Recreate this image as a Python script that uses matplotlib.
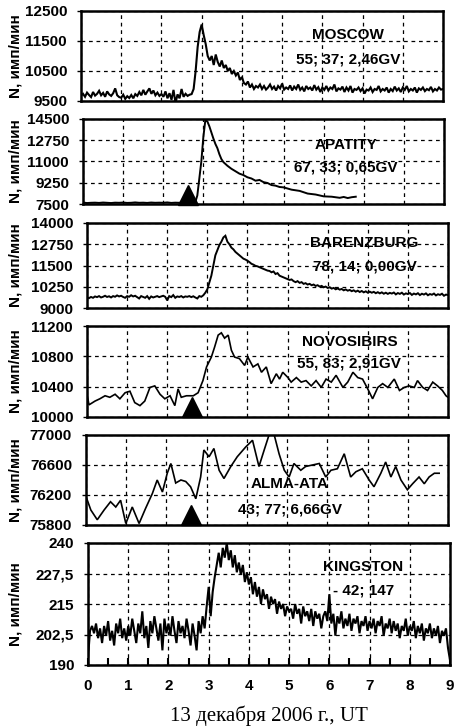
import numpy as np
import matplotlib
matplotlib.use('Agg')
import matplotlib.pyplot as plt

plt.rcParams['font.family'] = ['Liberation Sans', 'DejaVu Sans']

# ---------------- data ----------------
stations = ['MOSCOW', 'APATITY', 'BARENZBURG', 'NOVOSIBIRS', 'ALMA-ATA', 'KINGSTON']
station_info = ['55; 37; 2,46GV', '67, 33; 0,65GV', '78, 14; 0,00GV',
                '55, 83; 2,91GV', '43; 77; 6,66GV', '- 42; 147']
event_onset = 2.62  # hours UT, marked by triangle

moscow_v = [
    9680, 9740, 9640, 9780, 9700, 9630, 9800, 9680, 9740, 9840, 9690, 9770, 9640, 9820, 9720, 9670, 9760, 9920, 9690, 9630,
    9610, 9710, 9570, 9660, 9600, 9700, 9590, 9730, 9670, 9800, 9690, 9870, 9710, 9820, 9920, 9740, 9850, 9690, 9780, 9670,
    9730, 9640, 9820, 9590, 9760, 9540, 9870, 9430, 9720, 9590, 9900, 9640, 9740, 9670, 9710, 9730,
    9900, 10500, 11300, 11800, 12050, 11700, 11400, 11000, 10850, 11000, 10700, 11050, 10800, 10650, 10850, 10600, 10700,
    10500, 10600, 10400, 10500, 10350, 10450, 10200, 10300, 10100, 10050, 10150, 9950, 10050, 9900, 10000, 9950, 10050, 9900,
    10000, 9880, 9950, 10050, 9900, 9980, 9850, 10000, 9920, 10080, 9880, 9950, 9900, 10020, 9850, 9980, 9900, 10050, 9870, 9950,
    9820, 10000, 9900, 9950, 9850, 10030, 9880, 9960, 9800, 9950,
    9870, 10000, 9850, 9950, 9900, 10050, 9820, 9920, 9880, 9980, 9800, 9950, 9850, 10000, 9780, 9900, 9870, 9950, 9830, 9920,
    9750, 9880, 9850, 9950, 9800, 9900, 9870, 10000, 9820, 9900,
    9850, 9950, 9780, 9900, 9830, 9980, 9850, 9920, 9800, 9950, 9870, 10000, 9820, 9900, 9850, 9950, 9780, 9920, 9870, 9950,
    9830, 9900, 9860, 9970, 9820, 9900, 9850, 9950, 9880, 9900]

apatity_t = [0.0, 0.1, 0.2, 0.3, 0.4, 0.5, 0.6, 0.7, 0.8, 0.9, 1.0, 1.1, 1.2, 1.3, 1.4, 1.5, 1.6, 1.7, 1.8, 1.9,
             2.0, 2.1, 2.2, 2.3, 2.4, 2.5, 2.6, 2.7, 2.8,
             2.85, 2.9, 2.95, 3.0, 3.05, 3.1, 3.15, 3.2, 3.25, 3.3, 3.35, 3.4, 3.45, 3.5, 3.6, 3.7, 3.8, 3.9,
             4.0, 4.1, 4.2, 4.3, 4.4, 4.5, 4.6, 4.7, 4.8, 4.9, 5.0, 5.2, 5.4, 5.6, 5.8, 6.0, 6.2, 6.4, 6.5, 6.6, 6.7, 6.8]
apatity_v = [7620, 7580, 7600, 7610, 7590, 7620, 7600, 7580, 7610, 7600, 7620, 7590, 7600, 7630, 7600, 7610, 7590, 7620,
             7600, 7610, 7600, 7630, 7590, 7610, 7600, 7620, 7600, 7610, 7650,
             8200, 9600, 11000, 13000, 14400, 14300, 13900, 13400, 12900, 12450, 12100, 11600, 11200, 10950, 10650, 10400,
             10200, 10000,
             9880, 9700, 9600, 9420, 9480, 9300, 9230, 9060, 9010, 8900, 8870, 8680, 8580, 8360, 8280, 8130, 8100, 8010,
             8080, 7990, 8060, 8100]

barenz_v = [
    9620, 9580, 9650, 9600, 9680, 9640, 9700, 9620, 9660, 9720, 9650, 9690, 9620, 9700, 9660, 9740, 9680, 9720, 9650, 9600,
    9700, 9660, 9750, 9680, 9720, 9640, 9560, 9700, 9650, 9600, 9700, 9540, 9680, 9620, 9660, 9700, 9640, 9680, 9720, 9660,
    9450, 9700, 9640, 9760, 9600, 9680, 9650, 9700, 9620, 9680, 9660, 9700, 9640, 9690, 9620, 9560, 9700, 9660, 9750,
    9900, 10100, 10500, 10900, 11500, 12100, 12400, 12700, 12900, 13150, 13250, 12900, 12750, 12550, 12450, 12300, 12200,
    12100, 12000, 11900, 11850, 11780, 11700, 11600, 11550, 11480, 11450, 11400, 11350, 11300, 11250, 11200, 11180, 11100,
    11150, 11000, 11050, 10900, 10850, 10800, 10750, 10700,
    10650, 10680, 10580, 10520, 10580, 10480, 10520, 10420, 10460, 10380, 10420, 10340, 10380, 10300, 10340, 10260, 10300,
    10220, 10260, 10180, 10220, 10140, 10180, 10100, 10150, 10080, 10120, 10040, 10090, 10020, 10060, 9990, 10040, 9960,
    10020, 9940, 10000, 9920, 9980, 9900,
    9960, 9900, 9950, 9870, 9930, 9860, 9920, 9840, 9900, 9830, 9890, 9850, 9910, 9800, 9880, 9830, 9900, 9790, 9860, 9820,
    9880, 9770, 9850, 9800, 9870, 9760, 9840, 9790, 9860, 9750, 9820, 9780, 9850, 9740, 9810, 9770, 9840, 9720, 9790, 9760]

novo_t = [0.0, 0.05, 0.2, 0.32, 0.45, 0.57, 0.7, 0.82, 0.95, 1.07, 1.19, 1.32, 1.44, 1.57, 1.69, 1.82, 1.94, 2.07, 2.19,
          2.27, 2.35, 2.48, 2.65, 2.77, 2.89, 2.98, 3.1, 3.18, 3.27, 3.35, 3.43, 3.52, 3.6, 3.68, 3.8, 3.93, 4.01, 4.14,
          4.26, 4.35, 4.47, 4.59, 4.72, 4.8, 4.88, 5.01, 5.09, 5.22, 5.34, 5.46, 5.59, 5.71, 5.84, 5.96, 6.09, 6.21, 6.38,
          6.5, 6.63, 6.75, 6.87, 7.0, 7.12, 7.25, 7.37, 7.5, 7.66, 7.79, 7.91, 8.03, 8.16, 8.24, 8.37, 8.49, 8.62, 8.74,
          8.86, 8.95, 9.0]
novo_v = [10300, 10160, 10210, 10240, 10280, 10260, 10300, 10240, 10320, 10340, 10190, 10150, 10210, 10390, 10410, 10300,
          10240, 10280, 10150, 10370, 10260, 10280, 10280, 10320, 10480, 10660, 10790, 10920, 11080, 11110, 11040, 11080,
          10880, 10790, 10770, 10680, 10790, 10660, 10700, 10590, 10660, 10440, 10570, 10500, 10590, 10520, 10460, 10520,
          10460, 10480, 10410, 10480, 10390, 10500, 10460, 10550, 10390, 10460, 10590, 10520, 10500, 10370, 10240, 10390,
          10440, 10390, 10500, 10350, 10390, 10410, 10390, 10480, 10390, 10350, 10460, 10410, 10350, 10280, 10260]

alma_t = [0.0, 0.12, 0.28, 0.45, 0.61, 0.74, 0.86, 0.99, 1.15, 1.32, 1.48, 1.65, 1.77, 1.9, 2.02, 2.11, 2.23, 2.36, 2.48,
          2.6, 2.73, 2.85, 2.93, 3.06, 3.18, 3.31, 3.43, 3.6, 3.76, 3.97, 4.14, 4.3, 4.43, 4.55, 4.68, 4.8, 4.93, 5.05,
          5.17, 5.34, 5.46, 5.63, 5.8, 5.96, 6.09, 6.25, 6.42, 6.58, 6.71, 6.87, 7.04, 7.16, 7.33, 7.45, 7.58, 7.7, 7.83,
          7.99, 8.12, 8.28, 8.41, 8.53, 8.66, 8.78]
alma_v = [76180, 76000, 75870, 76000, 76110, 76040, 76130, 75820, 76040, 75820, 76020, 76220, 76400, 76240, 76490, 76620,
          76360, 76400, 76380, 76310, 76150, 76440, 76800, 76710, 76820, 76530, 76420, 76580, 76710, 76840, 76930, 76580,
          76800, 77000, 77000, 76750, 76530, 76440, 76620, 76530, 76580, 76600, 76620, 76440, 76530, 76550, 76750, 76440,
          76510, 76550, 76400, 76310, 76490, 76640, 76440, 76580, 76400, 76270, 76350, 76440, 76350, 76440, 76490, 76490]

kingston_v = [
    193, 204, 206, 203, 207, 201, 205, 199, 206, 202, 208, 200, 204, 198, 207, 203, 209, 201, 205, 200,
    206, 202, 209, 204, 199, 207, 203, 212, 201, 206, 197, 208, 203, 210, 205, 200, 207, 196, 209, 203,
    207, 202, 210, 204, 199, 208, 203, 206, 201, 209, 204, 198, 207, 202, 196, 208, 203, 210, 205,
    214, 222, 210, 220, 226, 231, 236, 230, 238, 234, 240, 233, 237, 230, 235, 228, 232, 227, 231, 224, 228, 223,
    226, 219, 224, 218, 222, 215, 221, 217, 219, 213, 218, 215, 217, 211, 216, 213, 215, 210, 214, 212,
    213, 209, 215, 211, 213, 207, 214, 210, 212, 208, 213, 206, 212, 209, 211, 205, 210, 212, 208, 219,
    207, 211, 202, 210, 207, 212, 205, 209, 206, 211, 204, 209, 207, 210, 203, 208, 206, 210, 204, 208,
    205, 209, 203, 208, 206, 210, 202, 207, 205, 209, 203, 208, 204, 207, 201, 206, 204, 209, 202, 206,
    204, 208, 201, 206, 203, 207, 200, 205, 203, 207, 201, 205, 202, 206, 199, 204, 202, 205, 197, 192]

series = [
    (np.linspace(0, 9, len(moscow_v)), moscow_v),
    (apatity_t, apatity_v),
    (np.linspace(0, 9, len(barenz_v)), barenz_v),
    (novo_t, novo_v),
    (alma_t, alma_v),
    (np.linspace(0, 9, len(kingston_v)), kingston_v),
]

yticks = [
    [9500, 10500, 11500, 12500],
    [7500, 9250, 11000, 12750, 14500],
    [9000, 10250, 11500, 12750, 14000],
    [10000, 10400, 10800, 11200],
    [75800, 76200, 76600, 77000],
    [190, 202.5, 215, 227.5, 240],
]
ytick_labels = [
    ['9500', '10500', '11500', '12500'],
    ['7500', '9250', '11000', '12750', '14500'],
    ['9000', '10250', '11500', '12750', '14000'],
    ['10000', '10400', '10800', '11200'],
    ['75800', '76200', '76600', '77000'],
    ['190', '202,5', '215', '227,5', '240'],
]
xticks = [0, 1, 2, 3, 4, 5, 6, 7, 8, 9]
show_triangle = [False, True, False, True, True, False]
# label positions (hours, value) for station name and coordinates
label_pos = [
    (6.64, 11700, 10870),
    (6.55, 12360, 10465),
    (6.92, 12824, 11413),
    (6.54, 10987, 10707),
    (5.07, 76347, 76000),
    (6.84, 230.2, 220.7),
]
line_w = [1.5, 1.4, 1.4, 1.2, 1.2, 1.5]

# ---------------- layout ----------------
W, H = 458, 726
fig = plt.figure(figsize=(W / 100, H / 100), dpi=100)
boxes = [  # left, top, right, bottom in pixels
    (81, 11, 443, 101),
    (83, 119, 444, 204),
    (87, 223, 448, 308),
    (87, 326, 448, 417),
    (86, 435, 448, 525),
    (88, 543, 450, 665),
]

for i, (l, t, r, b) in enumerate(boxes):
    ax = fig.add_axes([l / W, 1 - b / H, (r - l) / W, (b - t) / H])
    x, y = series[i]
    ax.plot(x, y, color='black', lw=line_w[i], solid_joinstyle='miter')
    ax.set_xlim(0, 9)
    ax.set_ylim(yticks[i][0], yticks[i][-1])
    ax.set_yticks(yticks[i])
    ax.set_yticklabels(ytick_labels[i], fontsize=11, fontweight='bold')
    ax.set_xticks(xticks)
    for s in ax.spines.values():
        s.set_linewidth(1.8)
    ax.grid(True, color='black', linestyle=(0, (3, 3)), linewidth=0.9)
    ax.tick_params(axis='y', direction='out', length=3, width=1, pad=7)
    if i < 5:
        ax.tick_params(axis='x', length=0, labelbottom=False)
    else:
        ax.set_xticklabels([str(v) for v in xticks], fontsize=11, fontweight='bold')
        ax.set_xticks(np.arange(0, 9.01, 0.5), minor=True)
        ax.tick_params(axis='x', which='both', direction='in', length=5, width=1.5, pad=10)
        ax.set_xlabel('13 декабря 2006 г., UT', family=['Liberation Serif', 'DejaVu Serif'],
                      fontsize=15, labelpad=9)
    if show_triangle[i]:
        ax.plot([event_onset], [0.11], marker='^', ms=14, color='black',
                transform=ax.get_xaxis_transform(), clip_on=False)
    lx, ly1, ly2 = label_pos[i]
    ax.text(lx, ly1, stations[i], ha='center', va='center', fontsize=11, fontweight='bold')
    ax.text(lx, ly2, station_info[i], ha='center', va='center', fontsize=11, fontweight='bold')
    fig.text(16 / W, 1 - (t + b) / 2 / H, 'N, имп/мин', rotation=90, ha='center', va='center',
             fontsize=11, fontweight='bold')

fig.savefig('out.png', dpi=100)
